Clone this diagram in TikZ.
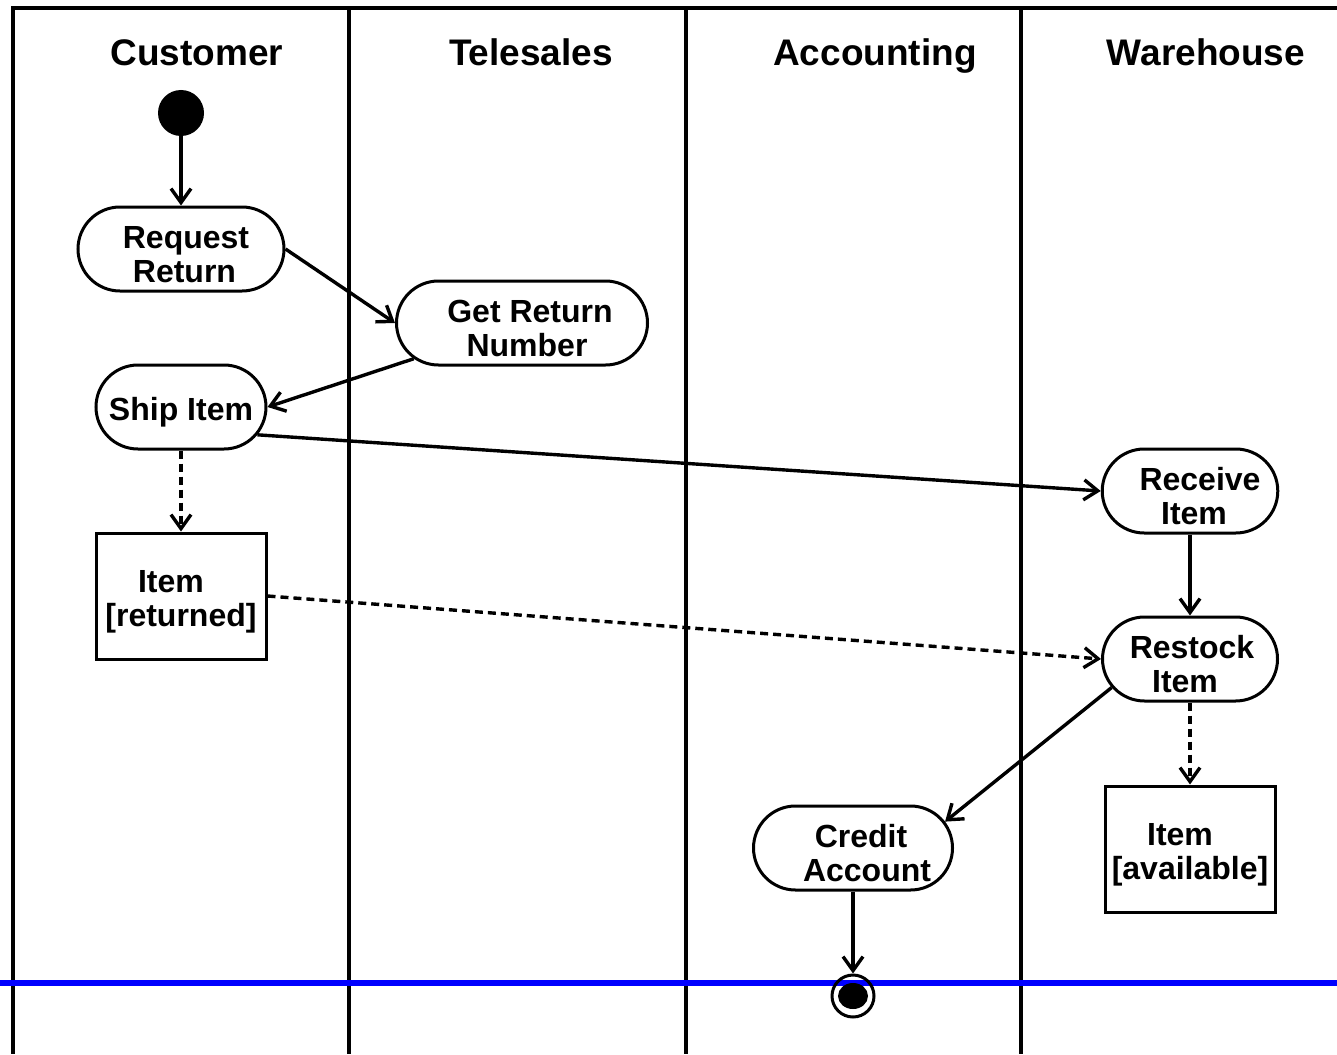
\documentclass[tikz,border=0pt]{standalone}
\usepackage{fontspec}
\setmainfont{Liberation Sans}
\usetikzlibrary{arrows.meta,shapes.misc}
\newcommand{\toplift}{\rule{0pt}{16.8pt}}
\tikzset{
  lane/.style={line width=1.6pt},
  lanetitle/.style={font=\bfseries\fontsize{18.5}{21}\selectfont, anchor=base},
  activity/.style={rounded rectangle, draw, line width=1.5pt, fill=white,
    font=\bfseries\fontsize{16}{17}\selectfont, align=center,
    inner sep=0pt, minimum height=42pt},
  objbox/.style={rectangle, draw, line width=1.5pt, fill=white,
    font=\bfseries\fontsize{16}{17}\selectfont, align=center,
    inner sep=0pt, minimum width=85pt, minimum height=63pt},
  flow/.style={line width=1.7pt, -{Straight Barb[length=7pt,width=10pt]}},
  objflow/.style={flow, dash pattern=on 4pt off 2.5pt}
}
\begin{document}
\begin{tikzpicture}[x=0.5pt,y=-0.5pt]
    \useasboundingbox (0,0) rectangle (1337,1054);
    % swimlanes
    \draw[lane] (1337,8) -- (13,8) -- (13,1054);
    \foreach \x in {349,686,1021}{%
        \draw[lane] (\x,8) -- (\x,1054);
    }
    \draw[blue,line width=2.6pt] (0,983) -- (1337,983);
    % lane titles
    \foreach \x/\name in {197/Customer,531/Telesales,875/Accounting,1206/Warehouse}{%
        \node[lanetitle] at (\x,66) {\name};
    }
    % start and end
    \fill (181,113) circle (23);
    \node[circle, draw, line width=1.5pt, minimum size=21pt, inner sep=0pt] (done) at (853,996) {};
    \fill (done.center) ellipse (15 and 13);
    % activities
    \node[activity, minimum width=103pt] (request) at (181,249) {\toplift\hspace*{5pt}Request\\\hspace*{3.5pt}Return};
    \node[activity, minimum width=125.5pt] (getnum) at (522,323) {\toplift\hspace*{8pt}Get Return\\\hspace*{5pt}Number};
    \node[activity, minimum width=85pt] (ship) at (181,407) {\toplift Ship Item};
    \node[activity, minimum width=87.5pt] (receive) at (1190,491) {\toplift\hspace*{10pt}Receive\\\hspace*{4pt}Item};
    \node[activity, minimum width=87.5pt] (restock) at (1190,659) {\toplift\hspace*{2pt}Restock\\Item\hspace*{5pt}};
    \node[activity, minimum width=99.5pt] (credit) at (853,848) {\toplift\hspace*{8pt}Credit\\\hspace*{14pt}Account};
    % objects
    \node[objbox] (returned) at (181,596) {\toplift Item\hspace*{10pt}\\{}[returned]};
    \node[objbox] (available) at (1190,849) {\toplift Item\hspace*{10pt}\\{}[available]};
    % control flow
    \coordinate (start) at (181,136);
    \draw[flow] (start) -- (request.north);
    \draw[flow] (request.east) -- (getnum.west);
    \draw[flow] (getnum) -- (ship.east);
    \draw[flow] (ship.-20) -- (receive.west);
    \draw[flow] (receive.south) -- (restock.north);
    \draw[flow] (restock.200) -- (credit.16);
    \draw[flow] (credit.south) -- (done.north);
    % object flow
    \draw[objflow] (ship.south) -- (returned.north);
    \draw[objflow] (returned.east) -- (restock.west);
    \draw[objflow] (restock.south) -- (available.north);
\end{tikzpicture}
\end{document}
